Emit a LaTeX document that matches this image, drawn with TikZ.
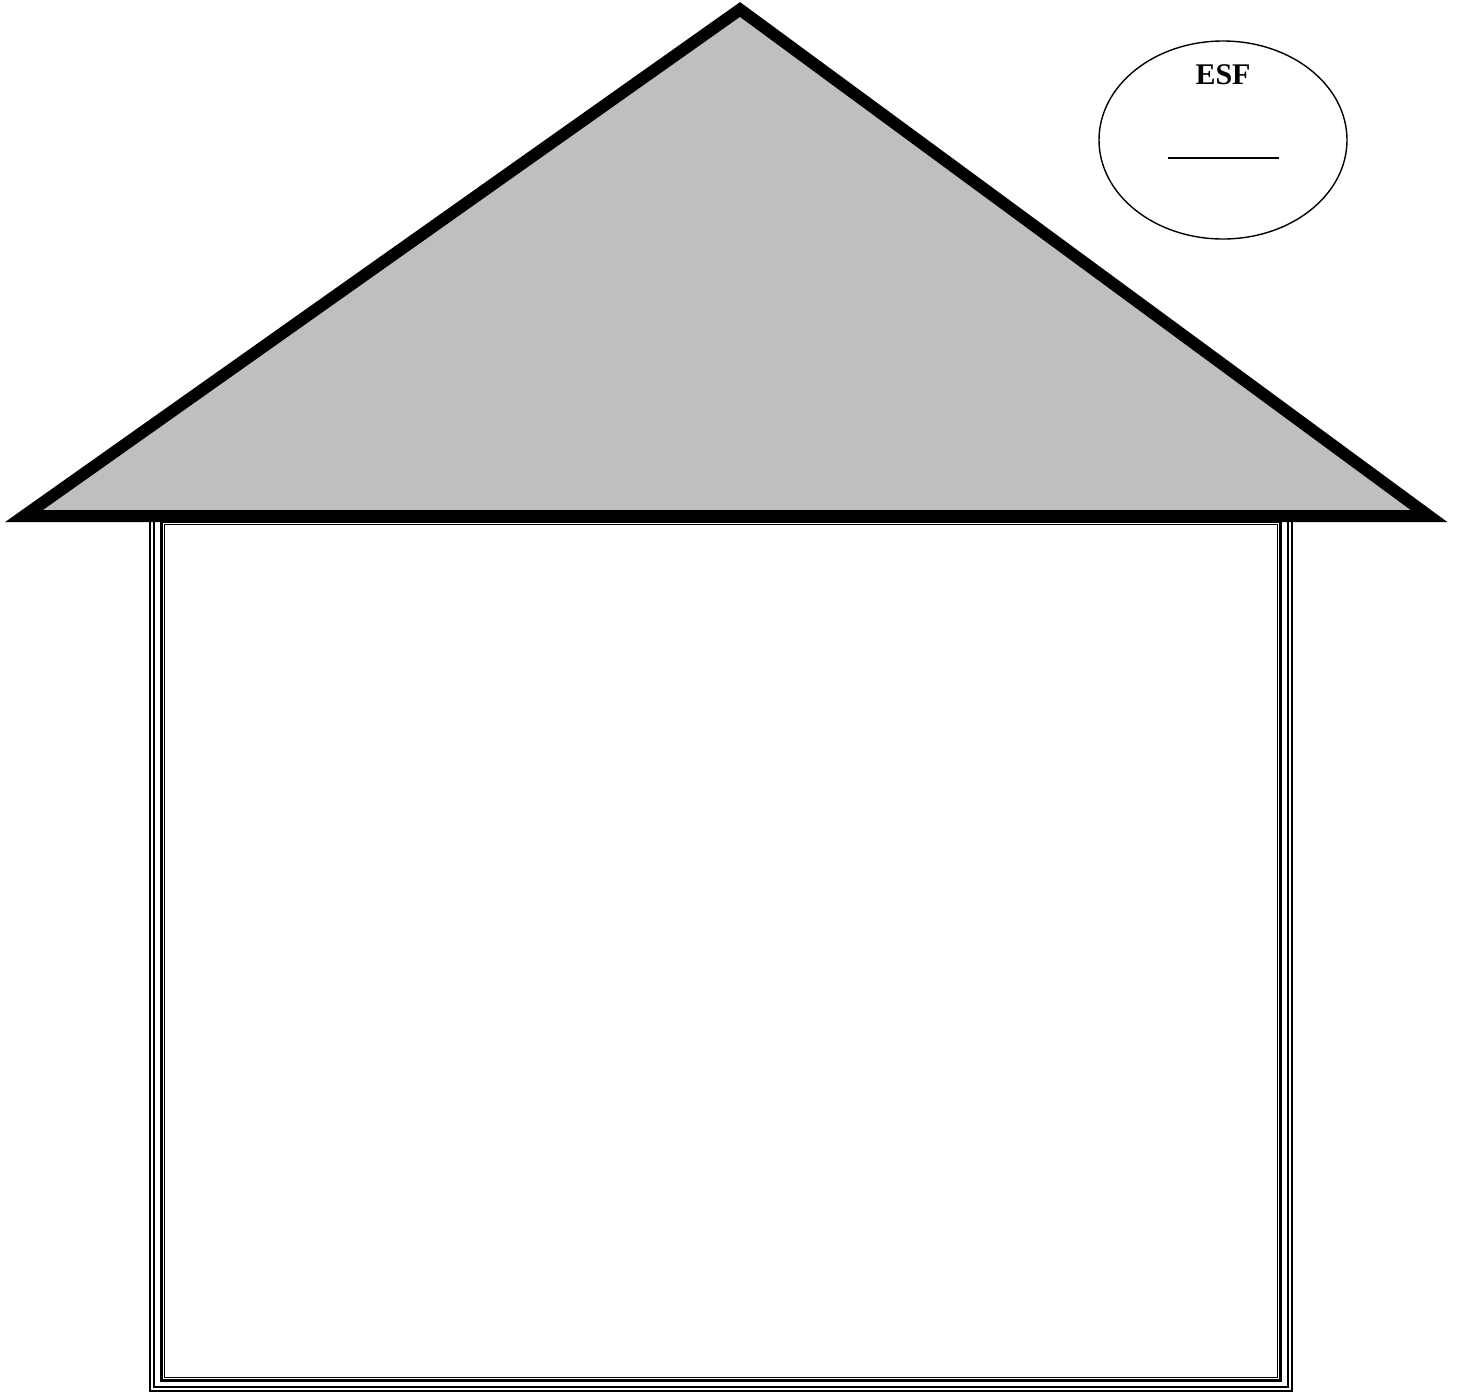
\documentclass[tikz,border=0pt]{standalone}
\usepackage{fontspec}
\setmainfont{Liberation Serif}
\usepackage{tikz}
\usetikzlibrary{shapes.geometric,positioning}
\definecolor{cRoof}{HTML}{BFBFBF}
\tikzset{
  roof/.style={draw=black, fill=cRoof, line width=12pt, line join=miter},
  wallthin/.style={draw=black, line width=2pt},
  wallthick/.style={draw=black, line width=3pt},
  sign/.style={ellipse, draw=black, line width=1.4pt, fill=white,
               minimum width=248pt, minimum height=198pt},
  signtxt/.style={font=\bfseries\fontsize{30}{32}\selectfont, inner sep=0pt},
}
\begin{document}
\begin{tikzpicture}[x=1pt, y=-1pt]
  \useasboundingbox (0,0) rectangle (1464,1393);
  % walls (triple border)
  \draw[wallthin]  (150,510) rectangle (1292,1391);
  \draw[wallthin]  (154,514) rectangle (1288,1387);
  \draw[wallthick] (161.5,521.5) rectangle (1280.5,1380.5);
  \draw[wallthin, line width=1.5pt] (164.5,524.5) rectangle (1277.5,1377.5);
  % roof
  \coordinate (eaveL) at (24,516);
  \coordinate (peak) at (740,9.5);
  \coordinate (eaveR) at (1429,516);
  \draw[roof] (eaveL) -- (peak) -- (eaveR) -- cycle;
  % sign
  \node[sign] (sign) at (1223,140) {};
  \node[signtxt] (esf) at (1223,75) {ESF};
  \node[inner sep=0pt] (blank) at (1223,158) {\rule{111pt}{1.3pt}};
\end{tikzpicture}
\end{document}
